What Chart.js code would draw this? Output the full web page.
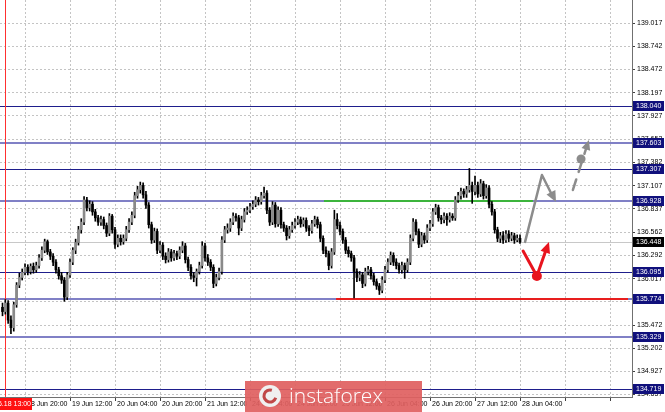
<!DOCTYPE html>
<html>
<head>
<meta charset="utf-8">
<script src="https://cdn.jsdelivr.net/npm/chart.js@4.4.0/dist/chart.umd.min.js"></script>
<style>
  html, body { margin: 0; padding: 0; background: #fff; }
  #caja { width: 665px; height: 412px; }
</style>
</head>
<body>
<div id="caja"><canvas id="grafico" width="665" height="412"></canvas></div>
<script>
// Velas H1 (índice de barra 0 = 18 Jun 12:00)
const aperturaInicial = 135.68;
const cierres = [
  135.63,135.73,135.53,135.44,135.71,135.94,136.03,136.09,136.15,136.10,
  136.16,136.12,136.17,136.26,136.35,136.45,136.33,136.28,136.21,136.12,
  136.05,136.00,135.80,136.06,136.21,136.35,136.44,136.59,136.68,136.94,
  136.85,136.89,136.80,136.73,136.68,136.71,136.64,136.55,136.75,136.59,
  136.42,136.49,136.45,136.49,136.59,136.68,136.76,136.99,137.06,137.11,
  137.00,136.88,136.65,136.47,136.57,136.35,136.41,136.28,136.24,136.33,
  136.26,136.31,136.28,136.35,136.40,136.24,136.15,136.05,136.03,136.10,
  136.17,136.40,136.26,136.21,136.15,135.96,136.03,136.10,136.47,136.59,
  136.61,136.68,136.75,136.73,136.61,136.71,136.80,136.82,136.86,136.89,
  136.94,136.92,136.99,137.02,136.82,136.68,136.88,136.66,136.82,136.65,
  136.61,136.52,136.59,136.64,136.68,136.71,136.66,136.70,136.61,136.58,
  136.66,136.71,136.65,136.49,136.35,136.31,136.17,136.33,136.71,136.64,
  136.57,136.47,136.35,136.31,136.26,136.10,136.03,136.06,135.96,136.10,
  136.12,136.05,135.98,135.93,135.88,136.00,136.12,136.21,136.29,136.21,
  136.17,136.12,136.17,136.12,136.21,136.49,136.68,136.57,136.42,136.52,
  136.47,136.61,136.66,136.80,136.85,136.73,136.71,136.75,136.71,136.75,
  136.73,136.94,136.99,137.04,137.01,137.06,137.11,137.04,137.11,137.01,
  137.13,136.99,137.08,136.89,136.80,136.59,136.49,136.52,136.47,136.54,
  136.49,136.52,136.47,136.49,136.448
];
const maximos = [
  135.73,135.77,135.76,135.58,135.74,135.97,136.08,136.13,136.19,136.18,
  136.19,136.20,136.21,136.30,136.39,136.48,136.47,136.36,136.31,136.24,
  136.15,136.09,136.03,136.09,136.25,136.38,136.48,136.63,136.72,136.98,
  136.97,136.93,136.92,136.83,136.76,136.75,136.74,136.67,136.78,136.77,
  136.62,136.53,136.53,136.53,136.63,136.72,136.80,137.03,137.10,137.15,
  137.14,137.04,136.91,136.68,136.61,136.60,136.45,136.44,136.32,136.37,
  136.36,136.35,136.34,136.39,136.45,136.43,136.27,136.18,136.09,136.13,
  136.21,136.45,136.43,136.30,136.24,136.18,136.07,136.14,136.51,136.63,
  136.66,136.72,136.79,136.78,136.76,136.75,136.84,136.86,136.90,136.93,
  136.98,136.97,137.03,137.09,137.05,136.85,136.92,136.91,136.86,136.85,
  136.68,136.64,136.63,136.68,136.72,136.75,136.74,136.73,136.73,136.64,
  136.70,136.75,136.74,136.68,136.52,136.39,136.34,136.37,136.82,136.78,
  136.68,136.60,136.50,136.39,136.34,136.29,136.13,136.10,136.09,136.14,
  136.16,136.15,136.08,136.01,135.96,136.04,136.16,136.25,136.33,136.32,
  136.25,136.20,136.21,136.20,136.25,136.53,136.72,136.71,136.60,136.56,
  136.55,136.65,136.70,136.84,136.89,136.88,136.76,136.79,136.78,136.79,
  136.78,136.98,137.03,137.08,137.07,137.10,137.31,137.15,137.22,137.15,
  137.18,137.16,137.12,137.11,136.92,136.83,136.62,136.56,136.57,136.58,
  136.58,136.56,136.55,136.53,136.53
];
const minimos = [
  135.58,135.60,135.49,135.37,135.40,135.68,135.91,136.00,136.06,136.06,
  136.07,136.08,136.09,136.14,136.23,136.32,136.30,136.24,136.17,136.08,
  136.01,135.96,135.75,135.77,136.03,136.18,136.31,136.41,136.55,136.65,
  136.81,136.81,136.76,136.69,136.64,136.64,136.60,136.51,136.52,136.55,
  136.37,136.39,136.41,136.42,136.46,136.56,136.65,136.73,136.96,137.02,
  136.96,136.84,136.61,136.43,136.44,136.31,136.32,136.24,136.20,136.21,
  136.22,136.23,136.24,136.25,136.32,136.20,136.11,136.01,135.98,135.93,
  136.07,136.14,136.22,136.17,136.11,135.91,135.93,136.00,136.07,136.44,
  136.55,136.57,136.65,136.69,136.53,136.58,136.68,136.77,136.79,136.83,
  136.86,136.88,136.89,136.96,136.78,136.64,136.65,136.62,136.63,136.61,
  136.57,136.47,136.49,136.56,136.61,136.65,136.62,136.63,136.57,136.52,
  136.55,136.63,136.61,136.45,136.31,136.27,136.12,136.14,136.30,136.60,
  136.53,136.43,136.31,136.27,136.22,135.79,135.98,135.99,135.91,135.93,
  136.06,136.01,135.94,135.89,135.83,135.85,135.97,136.09,136.18,136.17,
  136.13,136.08,136.08,136.02,136.09,136.18,136.46,136.53,136.38,136.39,
  136.43,136.44,136.58,136.63,136.77,136.69,136.66,136.67,136.64,136.68,
  136.70,136.70,136.91,136.95,136.97,136.97,137.03,136.90,137.00,136.97,
  136.98,136.95,136.96,136.85,136.76,136.55,136.45,136.44,136.43,136.44,
  136.45,136.46,136.43,136.45,136.43
];

// Eje de precios y eje de tiempo
const ticksPrecio = [139.017,138.742,138.472,138.197,137.927,137.652,137.382,137.107,136.837,136.562,136.292,136.017,135.747,135.472,135.202,134.927,134.657];
const barrasTiempo = [8,24,40,56,72,88,104,120,136,152,168,184,200,216];
const etiquetasTiempo = ['18 Jun 20:00','19 Jun 12:00','20 Jun 04:00','20 Jun 20:00','21 Jun 12:00','24 Jun 04:00','24 Jun 20:00','25 Jun 12:00','26 Jun 04:00','26 Jun 20:00','27 Jun 12:00','28 Jun 04:00'];

// Niveles horizontales
const nivelesOscuros = [138.040, 137.307, 136.095, 134.719];
const nivelesClaros = [137.603, 136.928, 135.774, 135.329];
const precioActual = 136.448;
const lineaVerde = [114.3, 188.6, 136.928];   // desde barra, hasta barra, precio
const lineaRoja = [118.6, 222.4, 135.774];
const barraMarcada = 1;
const etiquetaMarcada = '2019.06.18 13:00';

// Flechas de pronóstico (barra, precio)
const flechaGrisX = [185.8, 191.8, 196.8];
const flechaGrisY = [136.448, 137.233, 136.916];
const flechaPuntosX = [202.8, 208.5];
const flechaPuntosY = [137.057, 137.644];
const puntoGris = [205.7, 137.421];
const flechaRojaX = [185.1, 190.0, 194.3];
const flechaRojaY = [136.341, 136.048, 136.447];

const aperturas = [aperturaInicial].concat(cierres.slice(0, -1));
const mechas = cierres.map((c, i) => ({ x: i, y: [minimos[i], maximos[i]] }));
const cuerpos = cierres.map((c, i) => ({ x: i, y: [Math.min(aperturas[i], c), Math.max(aperturas[i], c)] }));
const coloresCuerpo = cierres.map((c, i) => c >= aperturas[i] ? '#8a8a8a' : '#000000');

const fuente = '7px "Liberation Sans", Arial, sans-serif';

function lineaH(ctx, x1, x2, y, color, ancho) {
    ctx.strokeStyle = color;
    ctx.lineWidth = ancho;
    const yy = ancho % 2 ? Math.round(y) + 0.5 : Math.round(y);
    ctx.beginPath();
    ctx.moveTo(x1, yy);
    ctx.lineTo(x2, yy);
    ctx.stroke();
}

function punta(ctx, x1, y1, x2, y2, largo, ancho, color) {
    const ang = Math.atan2(y2 - y1, x2 - x1);
    ctx.fillStyle = color;
    ctx.beginPath();
    ctx.moveTo(x2, y2);
    ctx.lineTo(x2 - largo * Math.cos(ang) + ancho * Math.sin(ang), y2 - largo * Math.sin(ang) - ancho * Math.cos(ang));
    ctx.lineTo(x2 - largo * Math.cos(ang) - ancho * Math.sin(ang), y2 - largo * Math.sin(ang) + ancho * Math.cos(ang));
    ctx.closePath();
    ctx.fill();
}

function cajaPrecio(ctx, y, texto, fondo) {
    ctx.fillStyle = fondo;
    ctx.fillRect(633, Math.round(y) - 5, 31, 10);
    ctx.fillStyle = '#ffffff';
    ctx.fillText(texto, 636, Math.round(y) + 0.5);
}

const dibujos = {
    id: 'dibujos',
    beforeDatasetsDraw(chart) {
        const { ctx, chartArea: a, scales: { x, y } } = chart;
        ctx.save();
        lineaH(ctx, a.left, a.right, y.getPixelForValue(precioActual), '#c8c8c8', 1);
        nivelesClaros.forEach(v => lineaH(ctx, a.left, a.right, y.getPixelForValue(v), '#8080c6', 2));
        nivelesOscuros.forEach(v => lineaH(ctx, a.left, a.right, y.getPixelForValue(v), '#1e1e8c', 1));
        lineaH(ctx, x.getPixelForValue(lineaVerde[0]), x.getPixelForValue(lineaVerde[1]), y.getPixelForValue(lineaVerde[2]), '#3cb43c', 2);
        lineaH(ctx, x.getPixelForValue(lineaRoja[0]), x.getPixelForValue(lineaRoja[1]), y.getPixelForValue(lineaRoja[2]), '#e81e1e', 2);
        // línea vertical roja
        const xm = Math.round(x.getPixelForValue(barraMarcada)) + 0.5;
        ctx.strokeStyle = '#ff3030';
        ctx.lineWidth = 1;
        ctx.beginPath();
        ctx.moveTo(xm, a.top);
        ctx.lineTo(xm, a.bottom);
        ctx.stroke();
        ctx.restore();
    },
    afterDatasetsDraw(chart) {
        const { ctx, scales: { x, y } } = chart;
        ctx.save();
        ctx.lineCap = 'round';
        ctx.lineJoin = 'round';
        // flecha gris en zigzag
        const gx = flechaGrisX.map(v => x.getPixelForValue(v));
        const gy = flechaGrisY.map(v => y.getPixelForValue(v));
        ctx.strokeStyle = '#8c8c8c';
        ctx.lineWidth = 2.5;
        ctx.beginPath();
        ctx.moveTo(gx[0], gy[0]);
        ctx.lineTo(gx[1], gy[1]);
        ctx.lineTo(gx[2] - 4, gy[2] - 7);
        ctx.stroke();
        punta(ctx, gx[1], gy[1], gx[2], gy[2], 11, 5, '#8c8c8c');
        // flecha gris punteada
        const px = flechaPuntosX.map(v => x.getPixelForValue(v));
        const py = flechaPuntosY.map(v => y.getPixelForValue(v));
        ctx.setLineDash([11, 8]);
        ctx.beginPath();
        ctx.moveTo(px[0], py[0]);
        ctx.lineTo(px[1] - 2, py[1] + 6);
        ctx.stroke();
        ctx.setLineDash([]);
        punta(ctx, px[0], py[0], px[1], py[1], 10, 4.5, '#8c8c8c');
        ctx.fillStyle = '#8c8c8c';
        ctx.beginPath();
        ctx.arc(x.getPixelForValue(puntoGris[0]), y.getPixelForValue(puntoGris[1]), 4.5, 0, Math.PI * 2);
        ctx.fill();
        // flecha roja en V
        const rx = flechaRojaX.map(v => x.getPixelForValue(v));
        const ry = flechaRojaY.map(v => y.getPixelForValue(v));
        ctx.strokeStyle = '#e8141e';
        ctx.lineWidth = 3;
        ctx.beginPath();
        ctx.moveTo(rx[0], ry[0]);
        ctx.lineTo(rx[1], ry[1]);
        ctx.lineTo(rx[2] - 3, ry[2] + 8);
        ctx.stroke();
        punta(ctx, rx[1], ry[1], rx[2], ry[2], 11, 5, '#e8141e');
        ctx.fillStyle = '#e8141e';
        ctx.beginPath();
        ctx.arc(rx[1], ry[1], 5, 0, Math.PI * 2);
        ctx.fill();
        ctx.restore();
    },
    afterDraw(chart) {
        const { ctx, chartArea: a, scales: { x, y } } = chart;
        ctx.save();
        ctx.font = fuente;
        ctx.textBaseline = 'middle';
        ctx.textAlign = 'left';
        // etiquetas de precio
        ctx.fillStyle = '#000000';
        ticksPrecio.forEach(v => ctx.fillText(v.toFixed(3), 637, Math.round(y.getPixelForValue(v)) + 0.5));
        nivelesClaros.concat(nivelesOscuros).forEach(v => cajaPrecio(ctx, y.getPixelForValue(v), v.toFixed(3), '#10107c'));
        cajaPrecio(ctx, y.getPixelForValue(precioActual), precioActual.toFixed(3), '#000000');
        // etiquetas de tiempo
        ctx.fillStyle = '#000000';
        etiquetasTiempo.forEach((t, i) => ctx.fillText(t, Math.round(x.getPixelForValue(barrasTiempo[i])) + 2, a.bottom + 7));
        // etiqueta roja de la línea vertical
        ctx.fillStyle = '#ff1010';
        ctx.fillRect(0, a.bottom + 1, 32, 12);
        ctx.fillStyle = '#ffffff';
        ctx.textAlign = 'right';
        ctx.fillText(etiquetaMarcada, 31, a.bottom + 7);
        // logotipo
        ctx.fillStyle = 'rgba(224, 96, 96, 0.92)';
        ctx.fillRect(245, 381, 177, 31);
        ctx.fillStyle = '#f0f0f0';
        ctx.beginPath();
        ctx.arc(270, 396, 11, 0, Math.PI * 2);
        ctx.fill();
        ctx.strokeStyle = '#c04848';
        ctx.lineWidth = 3;
        ctx.beginPath();
        ctx.arc(270, 396, 6, 0.3, Math.PI * 1.6);
        ctx.stroke();
        ctx.fillStyle = '#ffffff';
        ctx.font = '300 21px "Open Sans", sans-serif';
        ctx.textAlign = 'left';
        ctx.textBaseline = 'alphabetic';
        ctx.fillText('instaforex', 289, 403);
        ctx.restore();
    }
};

const grafico = new Chart(document.getElementById('grafico'), {
    type: 'bar',
    data: {
        datasets: [{
            data: cuerpos,
            backgroundColor: coloresCuerpo,
            borderWidth: 0,
            barThickness: 2,
            minBarLength: 1,
            grouped: false
        }, {
            data: mechas,
            backgroundColor: '#000000',
            borderWidth: 0,
            barThickness: 1,
            grouped: false
        }]
    },
    options: {
        responsive: false,
        animation: false,
        layout: { padding: 0 },
        plugins: { legend: { display: false }, tooltip: { enabled: false } },
        scales: {
            x: {
                type: 'linear',
                min: -0.89,
                max: 223.82,
                offset: false,
                afterBuildTicks: s => { s.ticks = barrasTiempo.map(v => ({ value: v })); },
                afterFit: s => { s.height = 15; },
                ticks: { display: false },
                grid: { offset: false, color: '#c4c4c4', tickColor: '#404040', tickLength: 4, tickBorderDash: [] },
                border: { color: '#707070', dash: [2, 2] }
            },
            y: {
                position: 'right',
                min: 134.627,
                max: 139.287,
                beginAtZero: false,
                afterBuildTicks: s => { s.ticks = ticksPrecio.map(v => ({ value: v })); },
                afterFit: s => { s.width = 33; },
                ticks: { display: false },
                grid: { color: '#c4c4c4', tickColor: '#404040', tickLength: 3, tickBorderDash: [] },
                border: { color: '#707070', dash: [2, 2] }
            }
        }
    },
    plugins: [dibujos]
});
</script>
</body>
</html>
